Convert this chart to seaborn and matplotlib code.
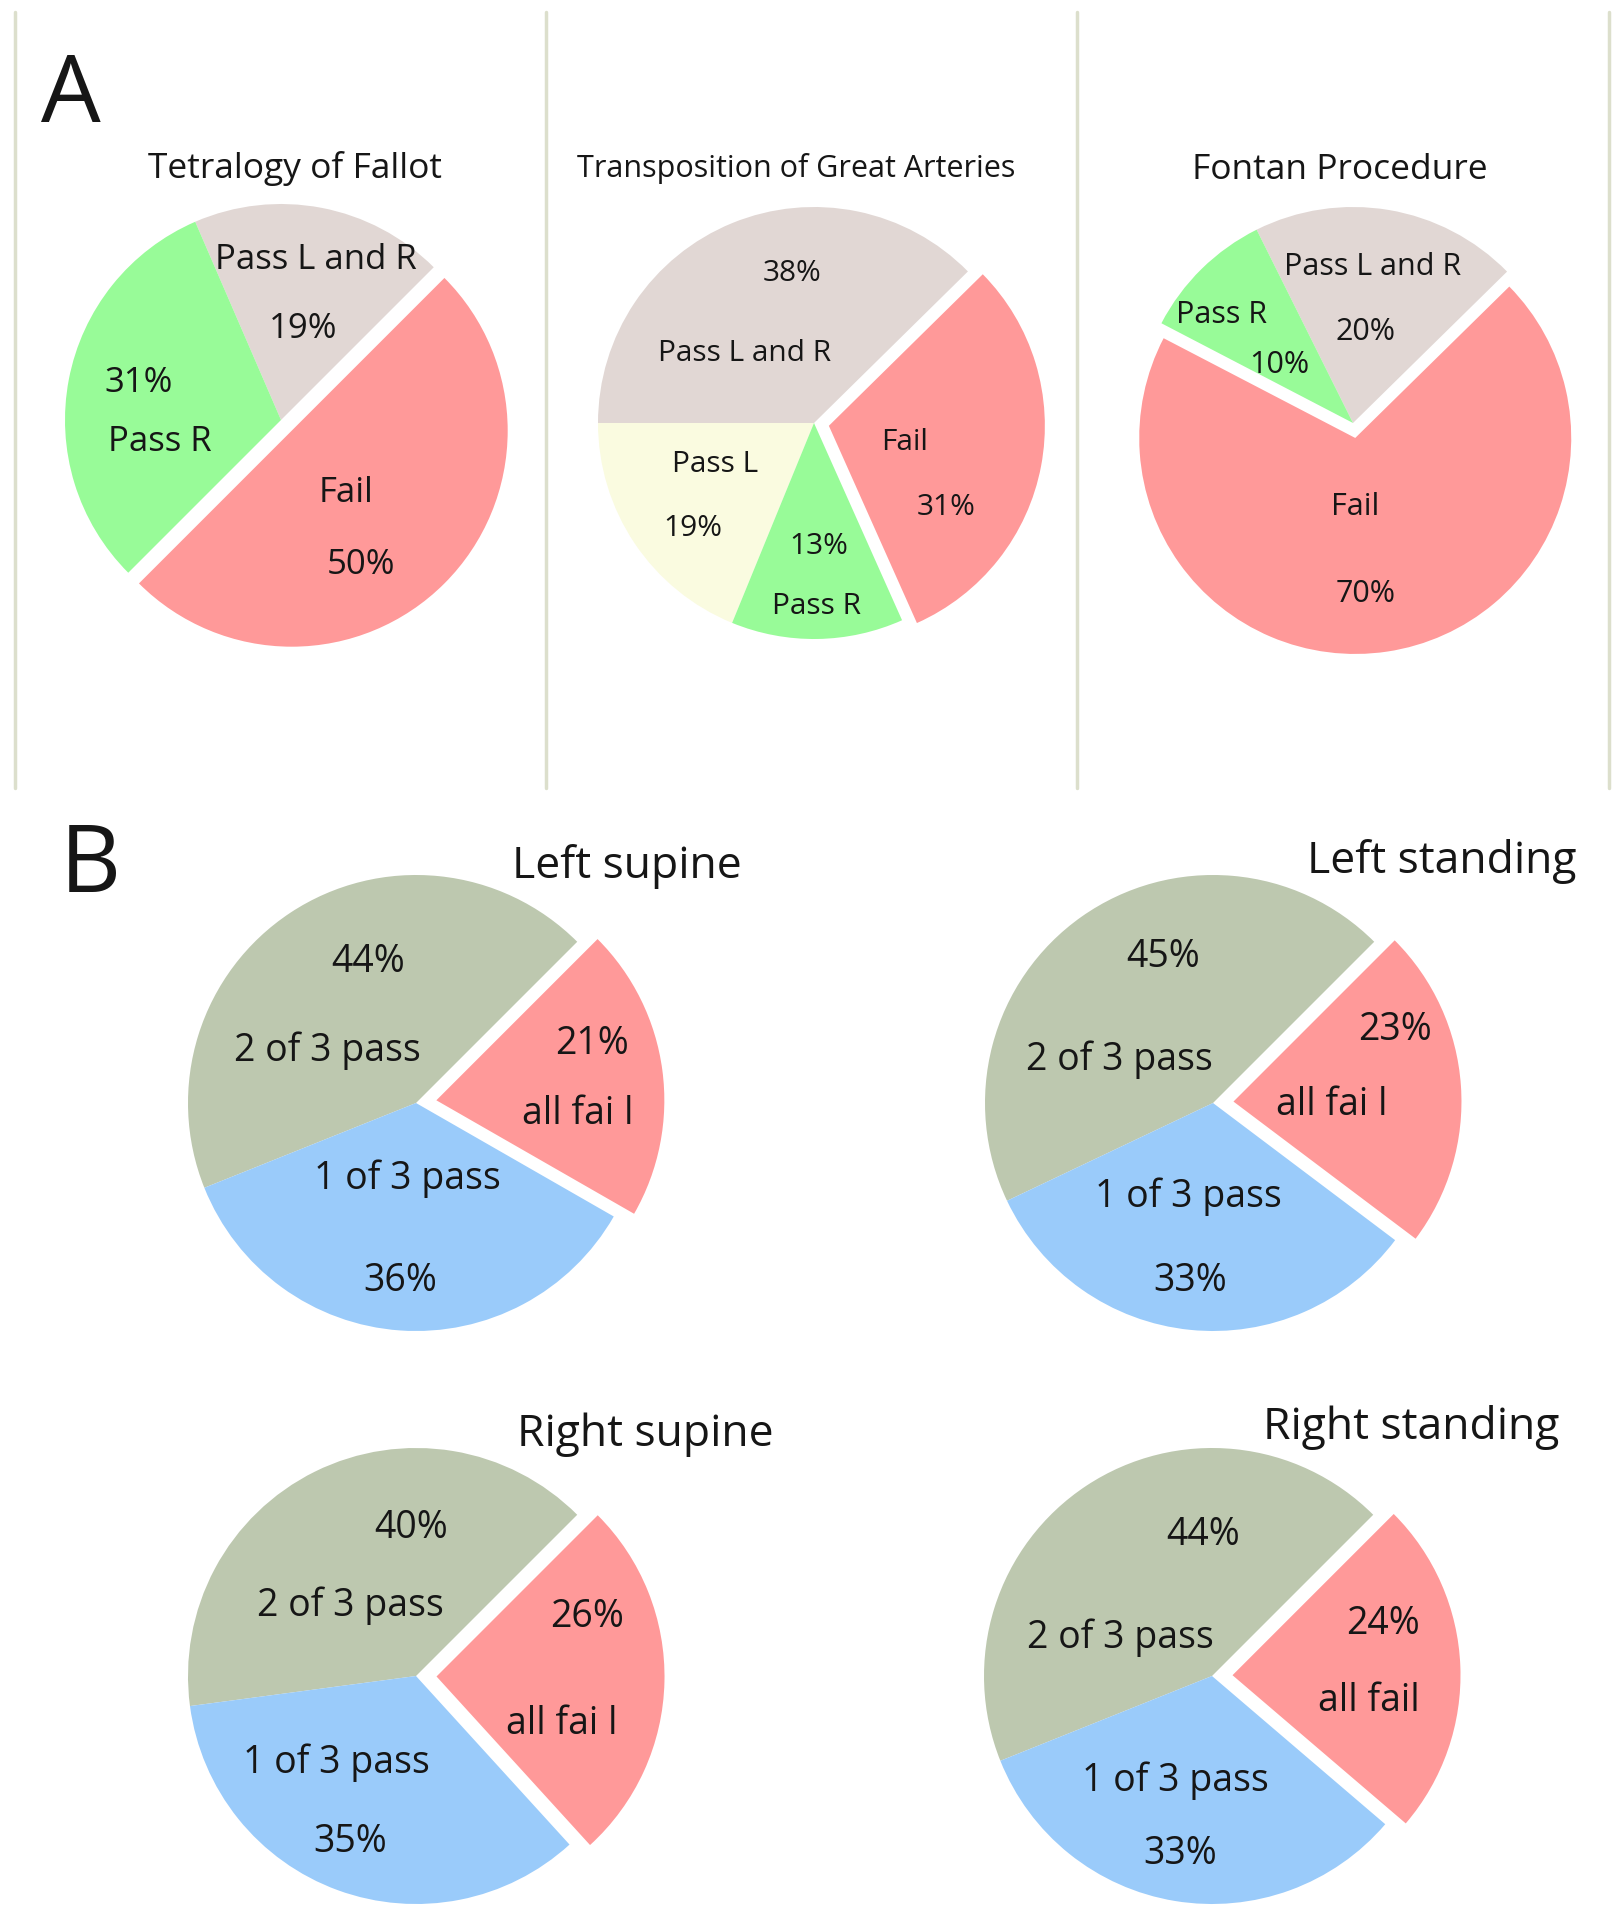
import matplotlib
matplotlib.use("Agg")
import matplotlib.pyplot as plt
from matplotlib.lines import Line2D
import seaborn as sns

# ---- data: panel A (congenital heart disease groups) ----
tof_groups = ["Pass L and R", "Pass R", "Fail"]
tof_pct = [19, 31, 50]
tga_groups = ["Pass L", "Pass R", "Fail", "Pass L and R"]
tga_pct = [19, 13, 31, 38]
fon_groups = ["Pass L and R", "Pass R", "Fail"]
fon_pct = [20, 10, 70]
a_titles = ["Tetralogy of Fallot", "Transposition of Great Arteries", "Fontan Procedure"]

# ---- data: panel B (position tests) ----
b_titles = ["Left supine", "Left standing", "Right supine", "Right standing"]
b_labels = [["2 of 3 pass", "1 of 3 pass", "all fai l"],
            ["2 of 3 pass", "1 of 3 pass", "all fai l"],
            ["2 of 3 pass", "1 of 3 pass", "all fai l"],
            ["2 of 3 pass", "1 of 3 pass", "all fail"]]
left_supine = [44, 36, 21]
left_standing = [45, 33, 23]
right_supine = [40, 35, 26]
right_standing = [44, 33, 24]

a_colors = {"Pass L and R": "#E1D7D4", "Pass R": "#98FB98",
            "Fail": "#FF9999", "Pass L": "#FAFBE0"}
b_colors = ["#BDC8AF", "#9ACBFA", "#FF9999"]

W, H = 1622, 1920
sns.set_theme(style="white")
plt.rcParams["font.family"] = ["Open Sans", "DejaVu Sans"]
TXT = "#161616"

fig = plt.figure(figsize=(W / 100, H / 100), dpi=100)
fig.patch.set_facecolor("white")

LIM = 1.3


def pie_axes(cx, cy, r):
    half = r * LIM
    ax = fig.add_axes([(cx - half) / W, 1 - (cy + half) / H, 2 * half / W, 2 * half / H])
    return ax


def draw_pie(ax, vals, colors, start, explode_idx, expl):
    explode = [expl if i == explode_idx else 0 for i in range(len(vals))]
    ax.pie(vals, colors=colors, startangle=start, counterclock=True,
           explode=explode, radius=1, wedgeprops=dict(linewidth=0))
    # pie() resets limits, so fix them afterwards
    ax.set_xlim(-LIM, LIM)
    ax.set_ylim(-LIM, LIM)
    ax.set_aspect("equal")
    ax.axis("off")


def ftext(x, y, s, size, ha="center"):
    fig.text(x / W, 1 - y / H, s, ha=ha, va="center", fontsize=size, color=TXT)


# ---- panel A ----
a_sets = [
    (tof_groups, tof_pct, 45, (281, 420, 216),
     {"Pass L and R": [(0.16, 0.74), (0.10, 0.42)], "Pass R": [(-0.56, -0.10), (-0.66, 0.17)],
      "Fail": [(0.30, -0.34), (0.37, -0.67)]}, 25),
    (tga_groups, tga_pct, 180, (814, 423, 216),
     {"Pass L and R": [(-0.32, 0.32), (-0.10, 0.69)], "Pass L": [(-0.46, -0.19), (-0.56, -0.49)],
      "Pass R": [(0.01, -0.85), (0.02, -0.57)], "Fail": [(0.42, -0.09), (0.61, -0.39)]}, 21.5),
    (fon_groups, fon_pct, 44.5, (1353, 423, 216),
     {"Pass L and R": [(0.09, 0.72), (0.06, 0.42)], "Pass R": [(-0.61, 0.50), (-0.34, 0.27)],
      "Fail": [(0.01, -0.39), (0.06, -0.79)]}, 22),
]
for groups, vals, start, (cx, cy, r), pos, fs in a_sets:
    ax = pie_axes(cx, cy, r)
    draw_pie(ax, vals, [a_colors[g] for g in groups], start, groups.index("Fail"), 0.07)
    for g, v in zip(groups, vals):
        (nx, ny), (px, py) = pos[g]
        ax.text(nx, ny, g, ha="center", va="center", fontsize=fs, color=TXT)
        ax.text(px, py, f"{v}%", ha="center", va="center", fontsize=fs, color=TXT)

ftext(295, 168, a_titles[0], 25.5)
ftext(796, 168, a_titles[1], 22)
ftext(1340, 170, a_titles[2], 25.5)
ftext(71, 97, "A", 68)

# separators between panel A charts
for x in [15, 546, 1077, 1609]:
    fig.add_artist(Line2D([x / W, x / W], [1 - 12 / H, 1 - 788 / H],
                          color="#DCDFCC", linewidth=2.5))

# ---- panel B ----
b_vals = [left_supine, left_standing, right_supine, right_standing]
b_centers = [(416, 1103), (1213, 1103), (416, 1676), (1212, 1676)]
b_pos = [
    [[(-0.39, 0.23), (-0.21, 0.62)], [(-0.04, -0.33), (-0.07, -0.78)], [(0.71, -0.05), (0.77, 0.26)]],
    [[(-0.41, 0.19), (-0.22, 0.64)], [(-0.11, -0.41), (-0.10, -0.78)], [(0.52, -0.01), (0.80, 0.32)]],
    [[(-0.29, 0.31), (-0.02, 0.65)], [(-0.35, -0.38), (-0.29, -0.73)], [(0.64, -0.21), (0.75, 0.26)]],
    [[(-0.40, 0.17), (-0.04, 0.62)], [(-0.16, -0.46), (-0.14, -0.78)], [(0.69, -0.11), (0.75, 0.23)]],
]
b_title_xy = [(512, 867), (1307, 862), (517, 1435), (1263, 1428)]
for vals, labels, (cx, cy), pos, title, (tx, ty) in zip(b_vals, b_labels, b_centers, b_pos, b_titles, b_title_xy):
    ax = pie_axes(cx, cy, 228)
    draw_pie(ax, vals, b_colors, 45, 2, 0.09)
    for lab, v, ((nx, ny), (px, py)) in zip(labels, vals, pos):
        ax.text(nx, ny, lab, ha="center", va="center", fontsize=27, color=TXT)
        ax.text(px, py, f"{v}%", ha="center", va="center", fontsize=27, color=TXT)
    ftext(tx, ty, title, 32, ha="left")

ftext(90, 867, "B", 68)

fig.savefig("out.png", dpi=100, facecolor="white")
